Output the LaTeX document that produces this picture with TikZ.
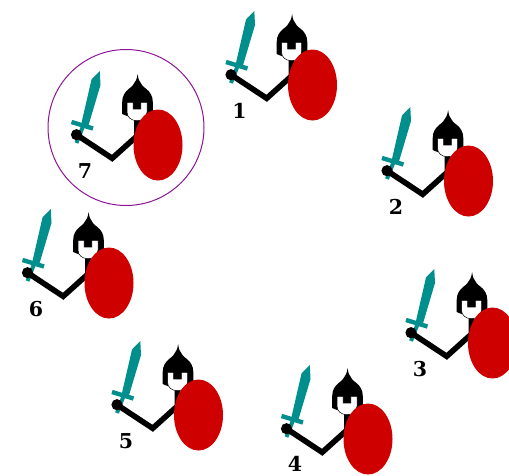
\documentclass[tikz,border=0pt]{standalone}
\usepackage{fontspec}
\setmainfont{DejaVu Serif}
\definecolor{swordteal}{RGB}{0,143,140}
\definecolor{shieldred}{RGB}{207,0,0}
\definecolor{ringpurple}{RGB}{140,20,150}
\tikzset{
  numlabel/.style={font=\fontsize{20.5}{20.5}\selectfont\bfseries, text=black, inner sep=0pt},
  ring/.style={draw=ringpurple, line width=1pt},
  pics/soldier/.style={code={
    % sword (coordinates relative to shield centre)
    \fill[swordteal] (-58.2,-74) -- (-57.5,-60) -- (-70,-18) -- (-77,-20) -- (-66.5,-65.5) -- cycle;
    \draw[swordteal, line width=4.4pt] (-86.5,-23) -- (-65,-16.5);
    \draw[swordteal, line width=4pt] (-74.5,-20) -- (-81.5,-2);
    % body and arm
    \draw[black, line width=5.6pt, line join=miter] (-21,-30) -- (-21,-9) -- (-45.8,13.3) -- (-81.5,-10.3);
    \fill[black] (-81.5,-10.3) circle (5.6);
    % helmet
    \fill[black] (-20.4,-71) .. controls (-21,-66) and (-22.5,-63) .. (-25,-60)
      .. controls (-26,-58.5) and (-28,-57) .. (-29.5,-56)
      .. controls (-33,-53) and (-35.8,-49) .. (-35.8,-43) -- (-35.8,-31) -- (-31,-29) -- (-10,-29) -- (-5.2,-34)
      -- (-5.2,-43) .. controls (-5.2,-49) and (-8,-53) .. (-11.5,-56)
      .. controls (-13,-57) and (-15,-58.5) .. (-16,-60)
      .. controls (-18.5,-63) and (-19.9,-66) .. (-20.4,-71) -- cycle;
    % face
    \draw[black, fill=white, line width=0.5pt] (-31,-42.7) -- (-24.8,-42.7) -- (-24.8,-36) -- (-17.2,-36) -- (-17.2,-42.7) -- (-11,-42.7)
      -- (-11,-33) .. controls (-11,-28) and (-15,-24.3) .. (-21,-24.3) .. controls (-27,-24.3) and (-31,-28) .. (-31,-33) -- cycle;
    % shield
    \fill[shieldred] (0,0) ellipse (24.5 and 35.5);
  }}
}
\begin{document}
\begin{tikzpicture}[x=1pt,y=-1pt]
  \useasboundingbox (0,0) rectangle (509,475);
  \clip (0,0) rectangle (509,475);
  \draw[ring] (126,127.5) circle (78);
  \pic at (312.5,85) {soldier};
  \pic at (468.5,181) {soldier};
  \pic at (492.5,343) {soldier};
  \pic at (368,439) {soldier};
  \pic at (198.5,415) {soldier};
  \pic at (109,283) {soldier};
  \pic at (158,145) {soldier};
  \node[numlabel] (n1) at (239.5,111) {1};
  \node[numlabel] (n2) at (396,207) {2};
  \node[numlabel] (n3) at (420,369) {3};
  \node[numlabel] (n4) at (295,463.5) {4};
  \node[numlabel] (n5) at (126,441) {5};
  \node[numlabel] (n6) at (36,309) {6};
  \node[numlabel] (n7) at (85,171) {7};
\end{tikzpicture}
\end{document}
